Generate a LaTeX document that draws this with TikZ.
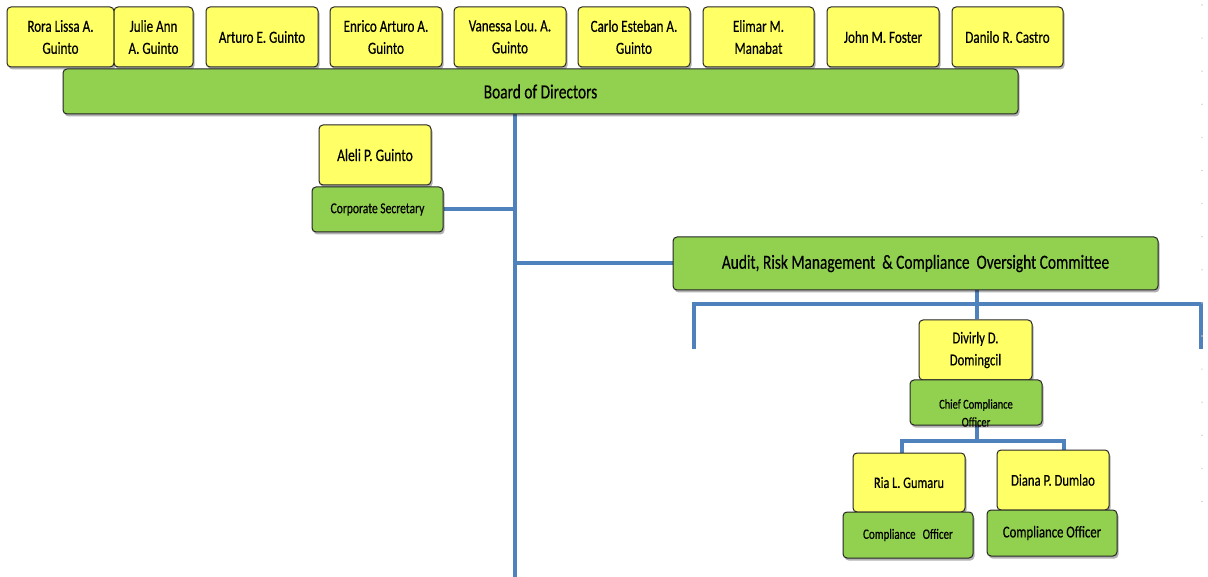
\documentclass[tikz,border=0pt]{standalone}
\usepackage{fontspec}
\setmainfont{Carlito}[FakeStretch=0.77, FakeBold=0.4]
\usetikzlibrary{shadows}
\definecolor{namefill}{RGB}{255,255,102}
\definecolor{rolefill}{RGB}{146,208,80}
\definecolor{linkblue}{RGB}{79,129,189}
\pgfdeclarelayer{paper}
\pgfdeclarelayer{wires}
\pgfsetlayers{paper,wires,main}
\frenchspacing
\begin{document}
\begin{tikzpicture}[x=1pt,y=-1pt,
  box/.style={draw=black!85, line width=1pt, rounded corners=4pt, align=center,
    inner sep=2pt,
    drop shadow={shadow xshift=1.5pt, shadow yshift=-2.5pt, opacity=0.3, fill=black}},
  namebox/.style={box, fill=namefill, minimum height=60pt,
    font=\fontsize{17}{22}\selectfont},
  rolebox/.style={box, fill=rolefill, minimum height=45pt},
  link/.style={draw=linkblue, line width=4pt},
]
\begin{pgfonlayer}{paper}
  \fill[white] (0,0) rectangle (1208,577);
\end{pgfonlayer}
\useasboundingbox (0,0) rectangle (1208,577);

% board members
\node[namebox, minimum width=107pt] (rora)    at (60.5,37)  {Rora Lissa A.\\Guinto};
\node[namebox, minimum width=79pt]  (julie)   at (153.5,37) {Julie Ann\\A. Guinto};
\node[namebox, minimum width=112pt] (arturo)  at (262,37)   {Arturo E. Guinto};
\node[namebox, minimum width=112pt] (enrico)  at (386,37)   {Enrico Arturo A.\\Guinto};
\node[namebox, minimum width=112pt] (vanessa) at (510,37)   {Vanessa Lou. A.\\Guinto};
\node[namebox, minimum width=112pt] (carlo)   at (634,37)   {Carlo Esteban A.\\Guinto};
\node[namebox, minimum width=111pt] (elimar)  at (758.5,37) {Elimar M.\\Manabat};
\node[namebox, minimum width=112pt] (john)    at (883,37)   {John M. Foster};
\node[namebox, minimum width=111pt] (danilo)  at (1007.5,37){Danilo R. Castro};

% board bar
\node[rolebox, minimum width=955pt, font=\fontsize{20}{24}\selectfont]
  (board) at (540.5,91.5) {Board of Directors};

% corporate secretary
\node[namebox, minimum width=112pt, font=\fontsize{17.5}{22}\selectfont]
  (aleli) at (375,155) {Aleli P. Guinto};
\node[rolebox, minimum width=131pt, font=\fontsize{15}{18}\selectfont]
  (cs) at (377.5,209.5) {Corporate Secretary};

% committee
\node[rolebox, minimum width=485pt, minimum height=53pt,
  font=\fontsize{20}{24}\selectfont] (audit) at (915.5,263.5)
  {Audit, Risk Management \ \& Compliance \ Oversight Committee};

% compliance office
\node[namebox, minimum width=113pt, font=\fontsize{16.5}{22}\selectfont]
  (divirly) at (975.5,350) {Divirly D.\\Domingcil};
\node[rolebox, minimum width=132pt] (cco) at (976,402.5) {};
\node[font=\fontsize{13.5}{18}\selectfont, align=center, inner sep=0pt]
  (ccotext) at (976,413) {Chief Compliance\\Officer};

\node[namebox, minimum width=112pt, minimum height=59pt, font=\fontsize{16}{20}\selectfont]
  (ria) at (909,482.5) {Ria L. Gumaru};
\node[rolebox, minimum width=130pt, minimum height=46pt, font=\fontsize{14.3}{18}\selectfont]
  (riarole) at (908,535) {Compliance\enspace Officer};
\node[namebox, minimum width=112pt, font=\fontsize{16.5}{20}\selectfont]
  (diana) at (1053,480) {Diana P. Dumlao};
\node[rolebox, minimum width=130pt, minimum height=46pt, font=\fontsize{16.5}{20}\selectfont]
  (dianarole) at (1052,533) {Compliance Officer};

% reference points for the connectors
\coordinate (trunkbot) at (515,577);
\coordinate (brl) at (694,349);
\coordinate (brr) at (1201,349);
\coordinate (brbar) at (0,304);
\coordinate (stem) at (977,0);
\coordinate (sub) at (0,441);
\coordinate (riax) at (902,0);
\coordinate (dianax) at (1064,0);

\begin{pgfonlayer}{wires}
  \draw[link] (board.south -| trunkbot) -- (trunkbot);
  \draw[link] (cs.east) -- (cs.east -| trunkbot);
  \draw[link] (audit.west) -- (audit.west -| trunkbot);
  \draw[link] (brl) -- (brl |- brbar) -- (brr |- brbar) -- (brr);
  \draw[link] (audit.south -| stem) -- (divirly.north -| stem);
  \draw[link] (cco.south -| stem) -- (stem |- sub);
  \draw[link] (ria.north -| riax) -- (riax |- sub) -- (dianax |- sub) -- (diana.north -| dianax);
\end{pgfonlayer}

% faint margin dots
\foreach \k in {0,...,15}
  \fill[black!18] (1202,5+33.1*\k) circle (0.8);
\end{tikzpicture}
\end{document}
